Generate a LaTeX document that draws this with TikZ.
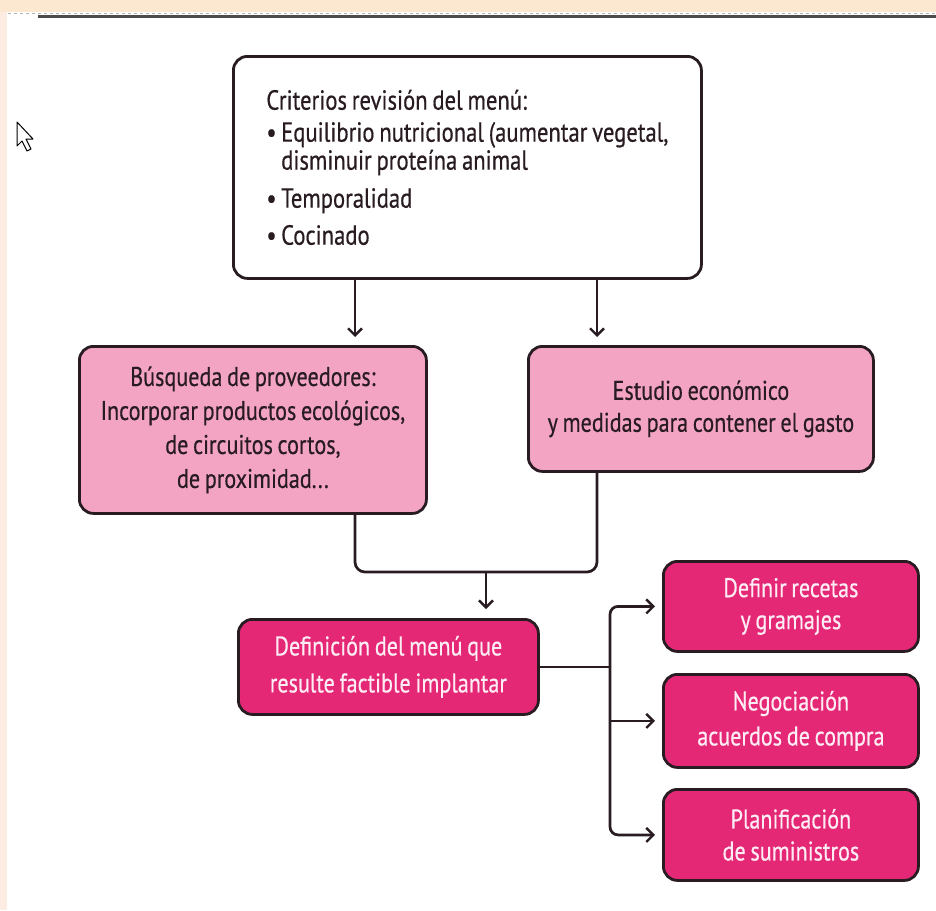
\documentclass[tikz,border=0pt]{standalone}
\usepackage{fontspec}
\setmainfont{PT Sans}[FakeStretch=0.82, WordSpace=0.8, FakeBold=0.5]
\usetikzlibrary{arrows.meta}
\definecolor{peach}{RGB}{252,232,208}
\definecolor{sidestrip}{RGB}{252,236,226}
\definecolor{lpink}{RGB}{244,164,195}
\definecolor{hpink}{RGB}{229,40,118}
\definecolor{ink}{RGB}{40,28,34}
\definecolor{wtext}{RGB}{253,236,244}
\tikzset{
  box/.style={draw=ink, line width=2.8pt, rounded corners=14pt, anchor=north west, inner sep=4pt},
  softbox/.style={box, fill=lpink, text=ink, align=center, font=\fontsize{27}{34}\selectfont},
  hotbox/.style={box, fill=hpink, text=wtext, align=center, font=\fontsize{27}{32}\selectfont},
  conn/.style={draw=ink, line width=2.7pt},
  arr/.style={conn, -{Straight Barb[length=7pt,width=14pt,line width=2.4pt]}},
}
\begin{document}
\begin{tikzpicture}[x=1pt,y=-1pt]
\useasboundingbox (0,0) rectangle (936,910);
\fill[white] (0,0) rectangle (936,910);
\fill[peach] (0,0) rectangle (936,12);
\fill[sidestrip] (0,12) rectangle (7,910);
\draw[gray!60, dashed, line width=0.8pt] (8,13) -- (936,13);
\draw[gray!60!black, line width=3pt] (38,16.5) -- (936,16.5);
% cursor
\draw[black, fill=white, line width=1pt, line join=round]
  (17,122) -- (17,146) -- (22,141) -- (27,151) -- (31,149) -- (26,139) -- (33,139) -- cycle;

% top box
\node[box, fill=white, text=ink, minimum width=468pt, minimum height=222pt,
      align=left, font=\fontsize{27.6}{28}\selectfont] (crit) at (232,55)
{Criterios revisión del menú:\\[4pt]
 •\,Equilibrio nutricional (aumentar vegetal,\\
 \phantom{•\,}disminuir proteína animal\\[10pt]
 •\,Temporalidad\\[9pt]
 •\,Cocinado};

% second row
\node[softbox, minimum width=347pt, minimum height=167pt] (busq) at (78,345)
{Búsqueda de proveedores:\\Incorporar productos ecológicos,\\de circuitos cortos,\\de proximidad...};
\node[softbox, minimum width=345pt, minimum height=125pt, font=\fontsize{27}{32}\selectfont] (estu) at (527,345)
{Estudio económico\\y medidas para contener el gasto};

% definition
\node[hotbox, minimum width=300pt, minimum height=95pt, font=\fontsize{27}{37}\selectfont] (defm) at (237,618)
{Definición del menú que\\resulte factible implantar};

% right column
\node[hotbox, minimum width=255pt, minimum height=90pt] (r1) at (662,560)
{Definir recetas\\y gramajes};
\node[hotbox, minimum width=255pt, minimum height=93pt, font=\fontsize{27}{35}\selectfont] (r2) at (662,673)
{Negociación\\acuerdos de compra};
\node[hotbox, minimum width=255pt, minimum height=91pt] (r3) at (662,788)
{Planificación\\de suministros};

% connectors from top box
\coordinate (aL) at (355,337);
\coordinate (aR) at (597,337);
\draw[arr] (crit.south -| aL) -- (aL);
\draw[arr] (crit.south -| aR) -- (aR);

% join of second row
\coordinate (jl) at (355,572);
\coordinate (jr) at (597,572);
\coordinate (jm) at (486,572);
\draw[conn, rounded corners=10pt] (busq.south -| jl) -- (jl) -- (jr) -- (estu.south -| jr);
\coordinate (dt) at (486,609);
\draw[arr] (jm) -- (dt);

% fan out to the right column
\coordinate (bx) at (610,0);
\draw[conn] (defm.east) -- (defm.east -| bx);
\draw[arr, rounded corners=8pt, shorten >=7pt] (defm.east -| bx) |- (r1.west);
\draw[arr, shorten >=7pt] (r2.west -| bx) -- (r2.west);
\draw[arr, rounded corners=8pt, shorten >=7pt] (defm.east -| bx) |- (r3.west);
\end{tikzpicture}
\end{document}
